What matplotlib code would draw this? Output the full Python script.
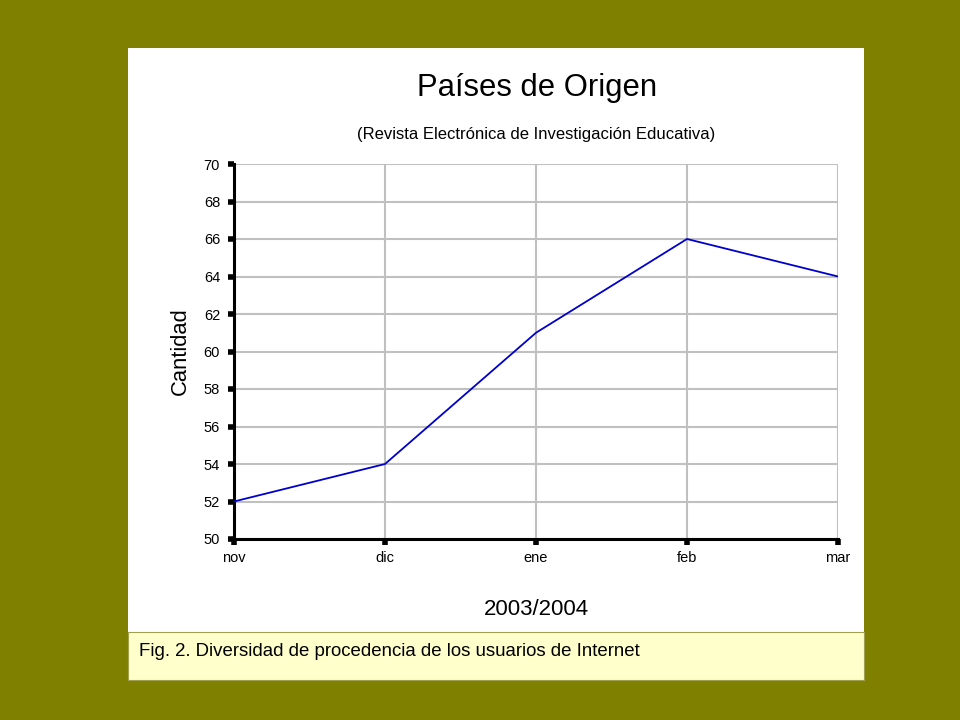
import matplotlib
matplotlib.use("Agg")
import matplotlib.pyplot as plt
from matplotlib.patches import Rectangle

# Datos
meses = ["nov", "dic", "ene", "feb", "mar"]
cantidad = [52, 54, 61, 66, 64]
y_ticks = list(range(50, 71, 2))

plt.rcParams['font.family'] = ['Liberation Sans', 'DejaVu Sans']

fig = plt.figure(figsize=(9.6, 7.2), dpi=100)
fig.patch.set_facecolor("#808000")

# Paneles de fondo (blanco y leyenda amarilla)
fig.patches.append(Rectangle((128 / 960, 1 - 632 / 720), 736 / 960, 584 / 720,
                             transform=fig.transFigure, facecolor="white",
                             edgecolor="none", zorder=-2))
fig.patches.append(Rectangle((128 / 960, 1 - 680 / 720), 736 / 960, 48 / 720,
                             transform=fig.transFigure, facecolor="#FFFFCC",
                             edgecolor="#A0A050", linewidth=0.8, zorder=-1))

ax = fig.add_axes([234 / 960, 1 - 539 / 720, 604 / 960, 375 / 720])
x = list(range(len(meses)))
ax.plot(x, cantidad, color="#0000CC", linewidth=1.3, zorder=3)

ax.set_xlim(0, len(meses) - 1)
ax.set_ylim(50, 70)
ax.set_xticks(x)
ax.set_xticklabels(meses)
ax.set_yticks(y_ticks)
ax.grid(True, color="#C0C0C0", linewidth=1.5)
ax.set_axisbelow(True)

for lado in ["top", "right"]:
    ax.spines[lado].set_visible(False)
ax.spines["left"].set_linewidth(2.2)
ax.spines["bottom"].set_linewidth(2.2)
ax.tick_params(axis="both", length=4, width=4, labelsize=10.5, color="black")
ax.tick_params(axis="y", pad=6)
ax.tick_params(axis="x", pad=5)

ax.set_ylabel("Cantidad", fontsize=15.8, labelpad=9)
ax.set_xlabel("2003/2004", fontsize=16, labelpad=24)

fig.text(537 / 960, 1 - 88 / 720, "Países de Origen", fontsize=22.3,
         ha="center", va="center")
fig.text(536 / 960, 1 - 134 / 720,
         "(Revista Electrónica de Investigación Educativa)", fontsize=12,
         ha="center", va="center")
fig.text(139 / 960, 1 - 651 / 720,
         "Fig. 2. Diversidad de procedencia de los usuarios de Internet",
         fontsize=13.4, ha="left", va="center")

fig.savefig("out.png", dpi=100, facecolor=fig.get_facecolor())
